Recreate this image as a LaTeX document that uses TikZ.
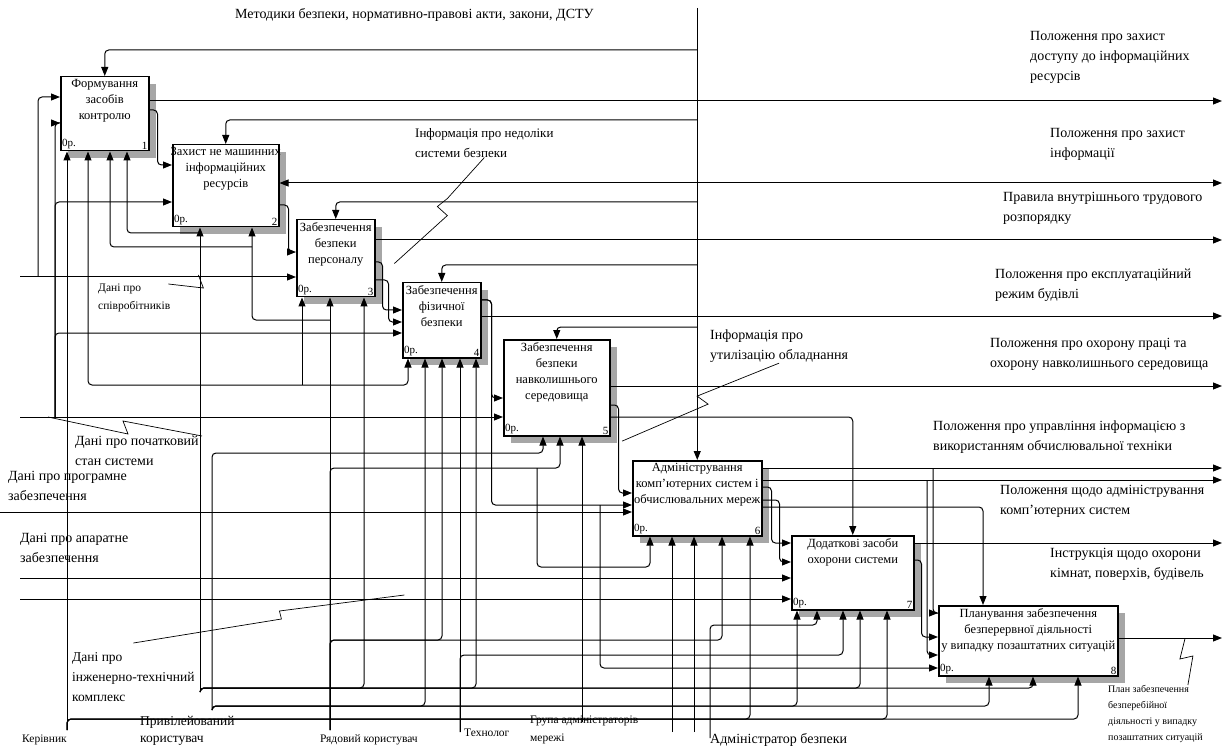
\documentclass[tikz,border=0pt]{standalone}
\usepackage{fontspec}
\setmainfont{Liberation Serif}
\usetikzlibrary{positioning,arrows.meta,shadows}

\tikzset{
  >={Triangle[width=7pt,length=9pt]},
  fbox/.style={draw, line width=1.5pt, fill=white, inner sep=0pt,
    drop shadow={shadow xshift=7pt, shadow yshift=-7pt, fill=black!35, opacity=1}},
  ftitle/.style={align=center, inner sep=0pt, font=\fontsize{12.5}{16}\selectfont},
  fcorner/.style={inner sep=2pt, font=\fontsize{11}{12}\selectfont},
  wire/.style={draw, line width=1pt, rounded corners=4pt},
  lbl/.style={anchor=north west, align=left, inner sep=0pt, font=\fontsize{14}{20}\selectfont},
  slbl/.style={lbl, font=\fontsize{11.5}{18}\selectfont},
  tlbl/.style={lbl, font=\fontsize{10}{16}\selectfont},
  leader/.style={draw, line width=0.7pt},
}

% IDEF0 function box: name, x, y, width, height, title, number
\newcommand{\ideffunc}[7]{%
  \node[fbox, anchor=north west, minimum width=#4pt, minimum height=#5pt] (#1) at (#2,#3) {};
  \node[ftitle, below=3pt of #1.north] (#1t) {#6};
  \node[fcorner, anchor=south west] (#1o) at (#1.south west) {0р.};
  \node[fcorner, anchor=south east] (#1n) at (#1.south east) {#7};
}

\begin{document}
\begin{tikzpicture}[x=1pt, y=-1pt]

\path[use as bounding box, fill=white] (0,0) rectangle (1227,754);

% function boxes
\ideffunc{b1}{60}{76}{88}{74}{Формування\\засобів\\контролю}{1}
\ideffunc{b2}{172}{144}{106}{82}{Захист не машинних\\інформаційних\\ресурсів}{2}
\ideffunc{b3}{296}{219}{78}{77}{Забезпечення\\безпеки\\персоналу}{3}
\ideffunc{b4}{402}{282}{78}{75}{Забезпечення\\фізичної\\безпеки}{4}
\ideffunc{b5}{503}{339}{106}{96}{Забезпечення\\безпеки\\навколишнього\\середовища}{5}
\ideffunc{b6}{632}{460}{129}{75}{Адміністрування\\комп'ютерних систем і\\обчислювальних мереж}{6}
\ideffunc{b7}{791}{535}{122}{74}{Додаткові засоби\\охорони системи}{7}
\ideffunc{b8}{938}{605}{179}{70}{Планування забезпечення\\безперервної діяльності\\у випадку позаштатних ситуацій}{8}

% frame points
\coordinate (ctop) at (b6.north |- 0,8);
\coordinate (rim) at (1222,0);
\coordinate (in1) at (20,277);
\coordinate (in2) at (20,417);
\coordinate (in3) at (0,512);
\coordinate (in4) at (20,578);
\coordinate (in5) at (20,599);
\coordinate (mK) at (67,730);
\coordinate (mP1) at (200,692);
\coordinate (mP2) at (212,710);
\coordinate (mR) at (330,730);
\coordinate (mT) at (460,732);
\coordinate (mG) at (582,722);
\coordinate (mG2) at (672,732);
\coordinate (mG3) at (694,732);
\coordinate (mA) at (710,738);

% controls
\draw[wire, ->] (ctop) -- (b6.north);
\foreach \fn/\yy in {b1/50, b2/120, b3/202, b4/265, b5/327}
  \draw[wire, ->] (ctop |- 0,\yy) -| (\fn.north);
\draw[wire, ->] (b5.east |- 0,417) -| (b7.north);
\draw[wire, ->] (b6.east |- 0,507) -| ([xshift=45pt]b8.north west);

% outputs
\foreach \fn/\yy in {b1/101, b3/240, b4/316, b5/386, b6/468, b6/480, b7/543, b8/638}
  \draw[wire, ->] (\fn.east |- 0,\yy) -- (rim |- 0,\yy);
\draw[wire, <->] (b2.east |- 0,183) -- (rim |- 0,183);

% box to box
\foreach \fa/\fb/\ya/\yb/\dx in {b1/b2/110/165/8, b2/b3/205/252/9, b3/b4/262/310/7,
    b3/b4/280/322/13, b4/b5/300/398/10, b4/b6/300/505/10, b5/b6/405/493/8,
    b6/b7/487/543/9, b6/b7/500/562/17, b7/b8/560/637/7}
  \draw[wire, ->] (\fa.east |- 0,\ya) -- ++(\dx,0) |- (\fb.west |- 0,\yb);
\draw[wire, ->] ([xshift=-5pt]b8.west |- 0,468) |- (b8.west |- 0,613);
\draw[wire, ->] ([xshift=-11pt]b8.west |- 0,480) |- (b8.west |- 0,655);
\draw[wire, ->] ([xshift=-32pt]b6.west |- 0,505) |- (b8.west |- 0,668);

% inputs
\draw[wire, ->] (in1) -- (b3.west |- in1);
\draw[wire, ->] ([xshift=18pt]in1) |- (b1.west |- 0,97);
\draw[wire, ->] (in2) -- (b5.west |- in2);
\foreach \fn/\yy in {b1/123, b2/202, b4/333}
  \draw[wire, ->] ([xshift=35pt]in2) |- (\fn.west |- 0,\yy);
\draw[wire, ->] (in3) -- (b6.west |- in3);
\draw[wire, ->] (in4) -- (b7.west |- in4);
\draw[wire, ->] (in5) -- (b7.west |- in5);

% mechanisms
\foreach \m/\fn in {mK/b1, mP1/b2, mR/b3, mT/b4, mG/b5, mG2/b6, mG3/b6}
  \draw[wire, ->] (\m) -- (\m |- \fn.south);
\foreach \m/\yy/\fn/\dx in {mK/719/b8/140pt, mK/719/b7/96pt, mK/719/b6/118pt,
    mP1/688/b4/74pt, mP1/688/b3/68pt, mP1/688/b7/69pt, mP1/688/b8/95pt,
    mP2/706/b4/23pt, mP2/706/b7/6pt, mP2/706/b8/51pt, mP2/453/b5/40pt,
    mR/640/b4/40pt, mR/640/b6/90pt, mR/468/b5/57pt,
    mT/655/b7/52pt, mA/625/b7/26pt}
  \draw[wire, ->] (\m) |- ([xshift=\dx]\fn.south west |- 0,\yy) -- ([xshift=\dx]\fn.south west);
\draw[wire, ->] (mR |- 0,320) -| ([xshift=80pt]b2.south west);
\draw[wire, ->] ([xshift=80pt]b2.south west |- 0,247) -| ([xshift=50pt]b1.south west);
\draw[wire, ->] ([xshift=28pt]b2.south west |- 0,233) -| ([xshift=67pt]b1.south west);
\draw[wire, <->] ([xshift=28pt]b1.south west) |- ([xshift=6pt]b4.south west |- 0,385) -- ([xshift=6pt]b4.south west);
\draw[wire, ->] ([xshift=6pt]b3.south west |- 0,385) -- ([xshift=6pt]b3.south west);
\draw[wire, ->] ([xshift=34pt]b5.south west |- 0,468) |- ([xshift=18pt]b6.south west |- 0,567) -- ([xshift=18pt]b6.south west);

% labels
\node[lbl] (lTop) at (235,8) {Методики безпеки, нормативно-правові акти, закони, ДСТУ};
\node[lbl] (lO1) at (1030,31) {Положення про захист\\доступу до інформаційних\\ресурсів};
\node[lbl] (lO2) at (1050,128) {Положення про захист\\інформації};
\node[lbl] (lO3) at (1003,192) {Правила внутрішнього трудового\\розпорядку};
\node[lbl] (lO4) at (995,269) {Положення про експлуатаційний\\режим будівлі};
\node[lbl] (lO5) at (990,338) {Положення про охорону праці та\\охорону навколишнього середовища};
\node[lbl] (lO6) at (933,421) {Положення про управління інформацією з\\використанням обчислювальної техніки};
\node[lbl] (lO7) at (1000,485) {Положення щодо адміністрування\\комп'ютерних систем};
\node[lbl] (lO8) at (1050,548) {Інструкція щодо охорони\\кімнат, поверхів, будівель};
\node[tlbl] (lO9) at (1108,685) {План забезпечення\\безперебійної\\діяльності у випадку\\позаштатних ситуацій};
\node[lbl, font=\fontsize{13}{20}\selectfont] (lNed) at (415,128) {Інформація про недоліки\\системи безпеки};
\node[lbl] (lUtil) at (710,330) {Інформація про\\утилізацію обладнання};
\node[slbl] (lIn1) at (98,284) {Дані про\\співробітників};
\node[lbl] (lIn2) at (75,436) {Дані про початковий\\стан системи};
\node[lbl] (lIn3) at (8,471) {Дані про програмне\\забезпечення};
\node[lbl] (lIn4) at (20,533) {Дані про апаратне\\забезпечення};
\node[lbl, font=\fontsize{13.5}{20}\selectfont] (lIn5) at (72,652) {Дані про\\інженерно-технічний\\комплекс};
\node[slbl] (lK) at (22,735) {Керівник};
\node[lbl, font=\fontsize{13.5}{17}\selectfont] (lPr) at (140,716) {Привілейований\\користувач};
\node[slbl] (lRyad) at (320,734) {Рядовий користувач};
\node[slbl] (lTech) at (464,729) {Технолог};
\node[slbl] (lGroup) at (530,716) {Група адміністраторів\\мережі};
\node[lbl] (lAdm) at (710,733) {Адміністратор безпеки};

% label leaders
\draw[leader] (lNed.south) -- ++(-37,41) -- ++(-10,8) -- ++(10,9) -- ++(-53,48);
\draw[leader] (lUtil.south) -- ++(-82,33) -- ++(11,8) -- ++(-86,37);
\draw[leader] ([xshift=-2pt]lIn1.north east) -- ++(35,4) -- ++(-5,-13);
\draw[leader] ([xshift=28pt]in2) -- ++(80,17) -- ++(-5,-13) -- ++(79,15);
\draw[leader] ([yshift=9pt]lIn5.north) -- ++(148,-24) -- ++(-2,-8) -- ++(125,-16);
\draw[leader] ([xshift=-15pt]lO9.north east) -- ++(5,-29) -- ++(-13,3) -- ++(5,-20);

\end{tikzpicture}
\end{document}
